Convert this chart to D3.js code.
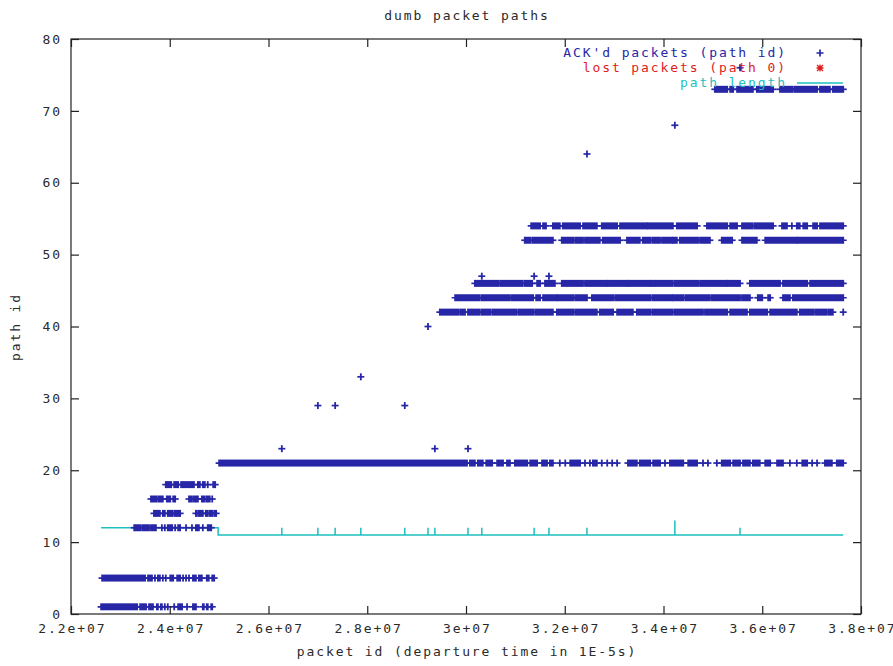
<!DOCTYPE html>
<html><head><meta charset="utf-8">
<script src="https://cdn.jsdelivr.net/npm/d3@7"></script>
<style>
body{margin:0;background:#fff;}
svg text{font-family:"DejaVu Sans Mono",monospace;font-size:13px;letter-spacing:1.9px;fill:#2a2a2a;}
</style></head><body>
<svg id="c" width="893" height="666"></svg>
<script>
// ---------- texts ----------
const title = "dumb packet paths";
const xLabel = "packet id (departure time in 1E-5s)";
const yLabel = "path id";
const seriesNames = ["ACK'd packets (path id)", "lost packets (path 0)", "path length"];

// ---------- ticks ----------
const xTicks = [2.2e7, 2.4e7, 2.6e7, 2.8e7, 3.0e7, 3.2e7, 3.4e7, 3.6e7, 3.8e7];
const xTickLabels = ["2.2e+07", "2.4e+07", "2.6e+07", "2.8e+07", "3e+07", "3.2e+07", "3.4e+07", "3.6e+07", "3.8e+07"];
const yTicks = [0, 10, 20, 30, 40, 50, 60, 70, 80];

// ---------- ACK'd packets: runs of packets [first, last] per path id (packet id in millions) ----------
const band1 = [[22.61,23.34],[23.40,23.52],[23.58,23.66],[23.74,23.76],[23.82,23.84],[23.90,23.90],[23.96,23.96],[24.09,24.09],[24.17,24.25],[24.35,24.35],[24.47,24.53],[24.67,24.69],[24.75,24.77],[24.84,24.86]];
const band5 = [[22.63,23.50],[23.56,23.64],[23.70,23.70],[23.76,23.80],[23.86,23.86],[23.92,23.92],[24.01,24.07],[24.15,24.21],[24.27,24.27],[24.33,24.33],[24.39,24.39],[24.47,24.53],[24.59,24.65],[24.75,24.79],[24.86,24.90]];
const band12 = [[23.28,23.40],[23.44,23.58],[23.62,23.72],[23.84,23.84],[23.90,23.90],[23.96,24.05],[24.11,24.11],[24.17,24.21],[24.33,24.33],[24.45,24.45],[24.53,24.59],[24.67,24.67],[24.77,24.84]];
const band14 = [[23.68,23.80],[23.86,23.90],[23.96,24.05],[24.09,24.21],[24.53,24.55],[24.59,24.67],[24.73,24.77],[24.81,24.86],[24.90,24.94]];
const band16 = [[23.62,23.74],[23.78,23.86],[23.94,24.01],[24.07,24.11],[24.39,24.45],[24.49,24.57],[24.65,24.71],[24.75,24.81],[24.86,24.86]];
const band18 = [[23.92,24.03],[24.09,24.17],[24.23,24.49],[24.57,24.61],[24.67,24.71],[24.77,24.77],[24.88,24.92]];
const band21 = [[25.00,30.02],[30.08,30.18],[30.24,30.34],[30.41,30.53],[30.63,30.75],[30.83,30.89],[30.99,31.24],[31.30,31.44],[31.54,31.64],[31.70,31.76],[31.90,31.90],[32.01,32.01],[32.11,32.31],[32.41,32.41],[32.51,32.51],[32.57,32.65],[32.75,32.75],[32.86,32.86],[32.96,32.96],[33.06,33.06],[33.28,33.46],[33.52,33.73],[33.79,33.93],[34.03,34.03],[34.13,34.40],[34.50,34.68],[34.80,34.80],[34.90,34.90],[35.08,35.08],[35.18,35.35],[35.41,35.55],[35.61,35.75],[35.81,35.95],[36.06,36.16],[36.30,36.42],[36.56,36.56],[36.70,36.70],[36.81,36.91],[37.01,37.01],[37.11,37.11],[37.27,37.41],[37.51,37.64]];
const band42 = [[29.47,29.84],[29.88,29.98],[30.04,30.28],[30.32,30.49],[30.53,31.03],[31.07,31.36],[31.40,31.76],[31.84,32.17],[32.21,32.65],[32.71,32.98],[33.06,33.38],[33.46,33.73],[33.77,34.19],[34.23,34.80],[34.84,35.29],[35.35,35.69],[35.75,36.10],[36.16,36.70],[36.76,37.03],[37.07,37.31],[37.35,37.43],[37.64,37.64]];
const band44 = [[29.78,30.28],[30.32,30.89],[30.93,31.36],[31.42,31.50],[31.56,31.84],[31.86,32.17],[32.21,32.45],[32.55,32.98],[33.02,33.73],[33.77,34.17],[34.19,34.40],[34.44,34.94],[34.98,35.55],[35.59,35.75],[35.91,36.00],[36.12,36.16],[36.42,36.56],[36.62,37.64]];
const band46 = [[30.18,30.65],[30.69,31.15],[31.19,31.34],[31.44,31.50],[31.60,31.80],[31.94,32.37],[32.41,32.86],[32.88,33.26],[33.28,33.73],[33.75,34.19],[34.23,34.70],[34.74,35.29],[35.31,35.55],[35.75,36.36],[36.42,36.91],[36.97,37.64]];
const band52 = [[31.19,31.30],[31.34,31.76],[31.94,32.17],[32.21,32.37],[32.41,32.71],[32.77,33.12],[33.26,33.52],[33.58,33.73],[33.77,33.93],[33.97,34.17],[34.19,34.27],[34.33,34.70],[34.74,34.94],[35.18,35.39],[35.59,35.89],[36.06,36.70],[36.72,37.64]];
const band54 = [[31.32,31.50],[31.56,31.62],[31.76,31.90],[31.96,32.31],[32.37,32.65],[32.75,33.06],[33.12,33.67],[33.69,34.19],[34.27,34.68],[34.88,35.29],[35.35,35.49],[35.59,35.81],[35.85,36.22],[36.40,36.50],[36.60,36.60],[36.70,36.76],[36.83,36.91],[37.03,37.11],[37.17,37.64]];
const band73 = [[35.04,35.29],[35.35,35.41],[35.49,35.81],[35.89,36.22],[36.36,36.62],[36.66,37.11],[37.17,37.37],[37.43,37.64]];
const bandIds = [1, 5, 12, 14, 16, 18, 21, 42, 44, 46, 52, 54, 73];
const bandRuns = [band1, band5, band12, band14, band16, band18, band21, band42, band44, band46, band52, band54, band73];

// isolated ACK'd packets: [packet id (millions), path id]
const ackSingles = [[26.27,23],[29.37,23],[30.04,23],[27.00,29],[27.35,29],[28.76,29],[27.87,33],[29.23,40],[30.32,47],[31.38,47],[31.68,47],[32.45,64],[34.23,68],[35.55,76]];

// lost packets (path 0): none visible
const lostPackets = [];

// ---------- path length ----------
const pathLenSteps = [[22.61,12],[24.98,12],[24.98,11],[37.64,11]];
const pathLenSpikes = [[26.27,12],[27.00,12],[27.35,12],[27.87,12],[28.76,12],[29.23,12],[29.37,12],[30.04,12],[30.32,12],[31.38,12],[31.68,12],[32.45,12],[34.23,13],[35.55,12]];

// ---------- colours ----------
const cBlue = "#2626a6", cRed = "#e01c1c", cCyan = "#1ebfbf", cInk = "#2a2a2a";

// ---------- scales ----------
const M = 1e6;
const X = d3.scaleLinear().domain([2.2e7, 3.8e7]).range([71, 861]);
const Y = d3.scaleLinear().domain([0, 80]).range([614, 39]);

const svg = d3.select("#c");

// path length line (steps + spikes)
const lenPts = [];
pathLenSteps.forEach(p => lenPts.push([p[0], p[1]]));
pathLenSpikes.forEach(p => { lenPts.push([p[0], 11], [p[0], p[1]], [p[0], 11]); });
lenPts.sort((a, b) => a[0] - b[0]);
// keep the step order stable at equal x
const lenLine = [];
let stepIdx = 0;
const merged = [];
{
  const spikes = pathLenSpikes.map(p => [[p[0], 11], [p[0], p[1]], [p[0], 11]]);
  const steps = pathLenSteps.slice();
  let si = 0, ki = 0;
  while (si < steps.length || ki < spikes.length) {
    if (ki >= spikes.length || (si < steps.length && steps[si][0] <= spikes[ki][0][0])) { merged.push(steps[si++]); }
    else { merged.push(...spikes[ki++]); }
  }
}
svg.append("path")
  .attr("d", d3.line().x(d => X(d[0] * M)).y(d => Y(d[1]))(merged))
  .attr("fill", "none").attr("stroke", cCyan).attr("stroke-width", 1.5);

// ACK'd packets
const runs = [];
bandIds.forEach((id, i) => bandRuns[i].forEach(r => runs.push({id, s: r[0], e: r[1]})));
ackSingles.forEach(p => runs.push({id: p[1], s: p[0], e: p[0]}));
const ack = svg.append("g");
ack.selectAll("line").data(runs).join("line")
  .attr("x1", d => X(d.s * M) - 3.5).attr("x2", d => X(d.e * M) + 3.5)
  .attr("y1", d => Y(d.id)).attr("y2", d => Y(d.id))
  .attr("stroke", cBlue).attr("stroke-width", 1.7);
ack.selectAll("rect").data(runs).join("rect")
  .attr("x", d => X(d.s * M) - 0.9).attr("width", d => X(d.e * M) - X(d.s * M) + 1.8)
  .attr("y", d => Y(d.id) - 3.5).attr("height", 7)
  .attr("fill", cBlue);

// lost packets (none)
svg.append("g").selectAll("path").data(lostPackets).join("path")
  .attr("d", d => { const x = X(d * M), y = Y(0); return `M${x-3.5},${y}h7M${x},${y-3.5}v7M${x-3},${y-3}l6,6M${x-3},${y+3}l6,-6`; })
  .attr("stroke", cRed).attr("stroke-width", 1.2);

// frame + axes (gnuplot style: inward, mirrored ticks)
svg.append("rect").attr("x", 71).attr("y", 39).attr("width", 790).attr("height", 575)
  .attr("fill", "none").attr("stroke", "#222").attr("stroke-width", 1.2);

const axB = svg.append("g").attr("transform", "translate(0,614)")
  .call(d3.axisBottom(X).tickValues(xTicks).tickSize(-8).tickPadding(10).tickFormat((d, i) => xTickLabels[i]));
const axT = svg.append("g").attr("transform", "translate(0,39)")
  .call(d3.axisTop(X).tickValues(xTicks).tickSize(-8).tickFormat(""));
const axL = svg.append("g").attr("transform", "translate(71,0)")
  .call(d3.axisLeft(Y).tickValues(yTicks).tickSize(-8).tickPadding(9));
const axR = svg.append("g").attr("transform", "translate(861,0)")
  .call(d3.axisRight(Y).tickValues(yTicks).tickSize(-8).tickFormat(""));
[axB, axT, axL, axR].forEach(a => {
  a.select(".domain").remove();
  a.selectAll(".tick line").attr("stroke", "#222").attr("stroke-width", 1.2);
  a.selectAll("text").attr("fill", cInk).style("font-family", null).style("font-size", null).attr("font-family", null).attr("font-size", null);
});
axB.selectAll("text").attr("dx", "0.9px");

// titles
svg.append("text").attr("x", 467).attr("y", 20).attr("text-anchor", "middle").text(title);
svg.append("text").attr("x", 467).attr("y", 656).attr("text-anchor", "middle").text(xLabel);
svg.append("text").attr("transform", "translate(20,327) rotate(-90)").attr("text-anchor", "middle").text(yLabel);

// legend
const legY = [53, 68, 83];
const legCol = [cBlue, cRed, cCyan];
seriesNames.forEach((n, i) => {
  svg.append("text").attr("x", 787).attr("y", legY[i] + 4).attr("text-anchor", "end")
    .style("fill", legCol[i]).text(n);
});
svg.append("path").attr("d", `M816.5,${legY[0]}h7M820,${legY[0]-3.5}v7`).attr("stroke", cBlue).attr("stroke-width", 1.7);
svg.append("path").attr("d", `M816.5,${legY[1]}h7M820,${legY[1]-3.5}v7M817,${legY[1]-3}l6,6M817,${legY[1]+3}l6,-6`).attr("stroke", cRed).attr("stroke-width", 1.3);
svg.append("line").attr("x1", 797).attr("x2", 843).attr("y1", legY[2]).attr("y2", legY[2]).attr("stroke", cCyan).attr("stroke-width", 1.5);
</script>
</body></html>
